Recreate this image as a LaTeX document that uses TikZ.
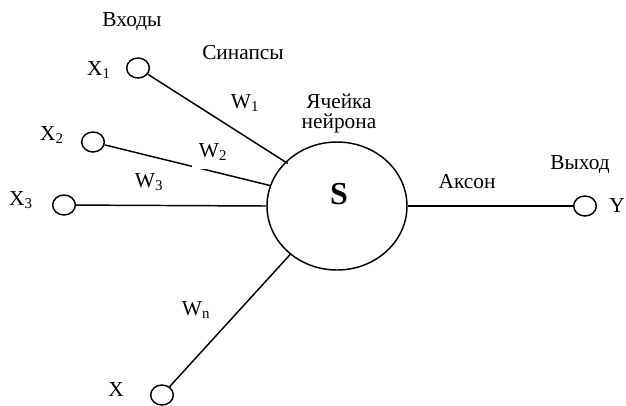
\documentclass[tikz,border=0pt]{standalone}
\usepackage{fontspec}
\setmainfont{Liberation Serif}
\usetikzlibrary{shapes.geometric}

\begin{document}
\begin{tikzpicture}[x=0.75pt, y=-0.75pt, font=\fontsize{16}{18}\selectfont,
  syn/.style={draw, line width=1.1pt, ellipse, minimum width=17pt, minimum height=15pt, inner sep=0pt},
  wire/.style={line width=1.1pt}]
  \useasboundingbox (0,0) rectangle (626,405);

  % Neuron cell body
  \node[draw, line width=1.1pt, ellipse, minimum width=105pt, minimum height=96pt, inner sep=0pt] (cell) at (337,206) {};
  \node[font=\fontsize{24}{26}\selectfont\bfseries] (sum) at (339,194) {S};

  % Input and output terminals
  \node[syn] (x1) at (138,68) {};
  \node[syn] (x2) at (93,142) {};
  \node[syn] (x3) at (64,205) {};
  \node[syn] (xn) at (162,395) {};
  \node[syn] (y) at (585,206) {};

  % Synapse lines and axon
  \draw[wire] (x1) -- ([shift={(2,2)}]cell.139);
  \draw[wire] (x2) -- (cell.163);
  \draw[wire] (x3) -- (cell.180);
  \draw[wire] (xn) -- (cell.226);
  \draw[wire] (cell.0) -- (y);

  % Labels
  \node (lin) at (132,22) {Входы};
  \node (lsyn) at (243,53) {Синапсы};
  \node (lcell) at (339,114) {\begin{tabular}{@{}c@{}}Ячейка\\[-3pt]нейрона\end{tabular}};
  \node (lx1) at (99,70) {X\textsubscript{1}};
  \node (lx2) at (52,135) {X\textsubscript{2}};
  \node (lx3) at (21,200) {X\textsubscript{3}};
  \node (lxn) at (116,390) {X};
  \node (w1) at (245,103) {W\textsubscript{1}};
  \node[fill=white, inner xsep=5pt, inner ysep=6.5pt] (w2) at (213,152) {W\textsubscript{2}};
  \node (w3) at (149,182) {W\textsubscript{3}};
  \node (wn) at (196,310) {W\textsubscript{n}};
  \node (lax) at (467,182) {Аксон};
  \node (lout) at (580,165) {Выход};
  \node[anchor=west, inner sep=0pt] (ly) at (609,206) {Y};

\end{tikzpicture}
\end{document}
